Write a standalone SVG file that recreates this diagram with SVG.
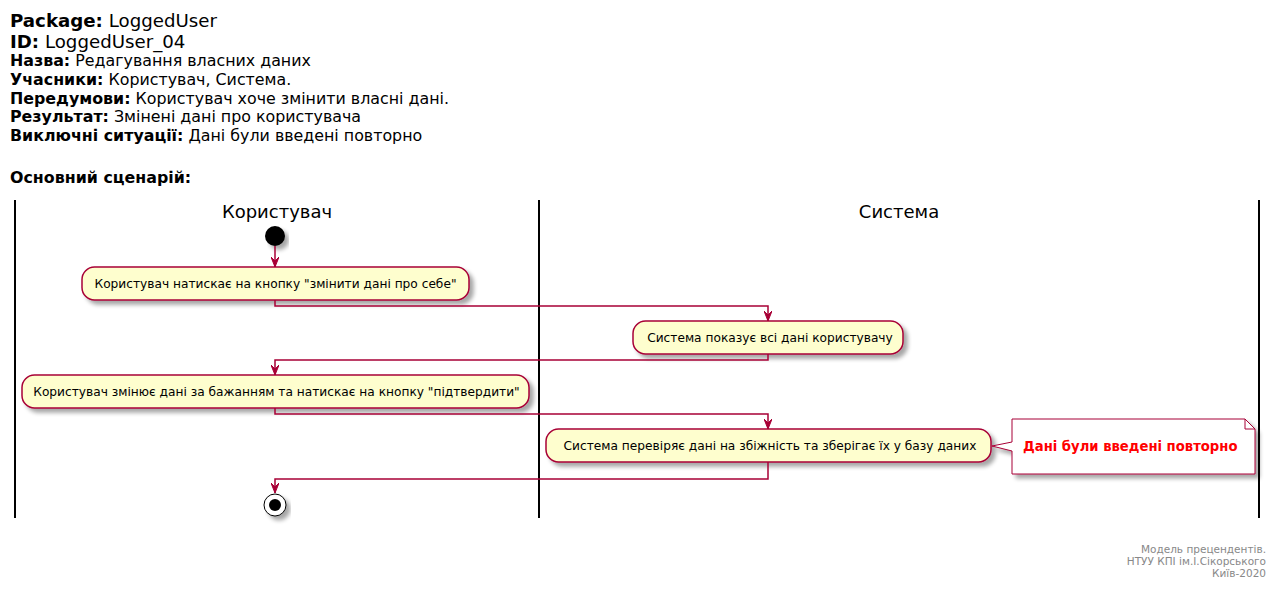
<svg xmlns="http://www.w3.org/2000/svg" width="1278" height="589" viewBox="0 0 1278 589">
<defs>
<filter id="sh" x="-10%" y="-20%" width="130%" height="160%">
<feGaussianBlur in="SourceAlpha" stdDeviation="2"/>
<feOffset dx="4" dy="4" result="b"/>
<feComponentTransfer><feFuncA type="linear" slope="0.35"/></feComponentTransfer>
<feMerge><feMergeNode/><feMergeNode in="SourceGraphic"/></feMerge>
</filter>
<marker id="ah" viewBox="0 0 10 8" refX="10" refY="4" markerWidth="10" markerHeight="8" markerUnits="userSpaceOnUse" orient="auto">
<polygon points="0,0 10,4 0,8 4,4" fill="#A80036" stroke="#A80036" stroke-width="1" stroke-linejoin="miter"/>
</marker>
</defs>
<style>
text{font-family:"DejaVu Sans","Liberation Sans",sans-serif;fill:#000}
.h1{font-size:18.2px}
.h2{font-size:15.85px}
.b{font-weight:bold}
.lane{stroke:#000;stroke-width:2}
.lt{font-size:18px;text-anchor:middle}
.act rect{fill:#FEFECE;stroke:#A80036;stroke-width:1.5}
.act text{font-size:12.2px;text-anchor:middle}
.con path{fill:none;stroke:#A80036;stroke-width:1.5}
.ft{font-size:10.5px;fill:#888;text-anchor:end}
</style>
<g id="header">
<text class="h1" x="10" y="27"><tspan class="b">Package:</tspan> LoggedUser</text>
<text class="h1" x="10" y="48"><tspan class="b">ID:</tspan> LoggedUser_04</text>
<text class="h2" x="10" y="66"><tspan class="b">Назва:</tspan> Редагування власних даних</text>
<text class="h2" x="10" y="85"><tspan class="b">Учасники:</tspan> Користувач, Система.</text>
<text class="h2" x="10" y="104"><tspan class="b">Передумови:</tspan> Користувач хоче змінити власні дані.</text>
<text class="h2" x="10" y="122"><tspan class="b">Результат:</tspan> Змінені дані про користувача</text>
<text class="h2" x="10" y="141"><tspan class="b">Виключні ситуації:</tspan> Дані були введені повторно</text>
<text class="h2 b" x="10" y="183">Основний сценарій:</text>
</g>
<g id="lanes">
<line class="lane" x1="15" y1="200" x2="15" y2="518"/>
<line class="lane" x1="539" y1="200" x2="539" y2="518"/>
<line class="lane" x1="1259" y1="200" x2="1259" y2="518"/>
<text class="lt" x="277" y="218">Користувач</text>
<text class="lt" x="899" y="218">Система</text>
</g>
<g id="start">
<circle cx="275" cy="236" r="10" fill="#000" filter="url(#sh)"/>
</g>
<g id="a1" class="act">
<rect x="82" y="267" width="387" height="33" rx="12.5" filter="url(#sh)"/>
<text x="275.5" y="288">Користувач натискає на кнопку "змінити дані про себе"</text>
</g>
<g id="a2" class="act">
<rect x="633" y="321" width="270" height="33" rx="12.5" filter="url(#sh)"/>
<text x="770" y="342">Система показує всі дані користувачу</text>
</g>
<g id="a3" class="act">
<rect x="22" y="375" width="507" height="33" rx="12.5" filter="url(#sh)"/>
<text x="276.5" y="396">Користувач змінює дані за бажанням та натискає на кнопку "підтвердити"</text>
</g>
<g id="a4" class="act">
<rect x="546" y="429" width="445" height="33" rx="12.5" filter="url(#sh)"/>
<text x="770" y="450">Система перевіряє дані на збіжність та зберігає їх у базу даних</text>
</g>
<g id="note">
<path d="M1012,419 H1245 L1255,429 V474 H1012 V451 L992,446 L1012,442 Z" fill="#FFFFFF" stroke="#A80036" stroke-width="1" filter="url(#sh)"/>
<path d="M1245,419 V429 H1255" fill="none" stroke="#A80036" stroke-width="1"/>
<text x="1023" y="451" font-size="13.2px" font-weight="bold" style="fill:#FF0000">Дані були введені повторно</text>
</g>
<g id="end">
<circle cx="275" cy="505" r="11" fill="#FFFFFF" stroke="#000" stroke-width="1" filter="url(#sh)"/>
<circle cx="275" cy="505" r="6" fill="#000"/>
</g>
<g id="connectors" class="con">
<path d="M275,246 V267" marker-end="url(#ah)"/>
<path d="M275,300 V306 H768 V321" marker-end="url(#ah)"/>
<path d="M768,354 V360 H275 V375" marker-end="url(#ah)"/>
<path d="M275,408 V414 H768 V429" marker-end="url(#ah)"/>
<path d="M768,462 V479 H275 V493" marker-end="url(#ah)"/>
</g>
<g id="footer">
<text class="ft" x="1266" y="553">Модель прецендентів.</text>
<text class="ft" x="1266" y="565">НТУУ КПІ ім.І.Сікорського</text>
<text class="ft" x="1266" y="577">Київ-2020</text>
</g>
</svg>
